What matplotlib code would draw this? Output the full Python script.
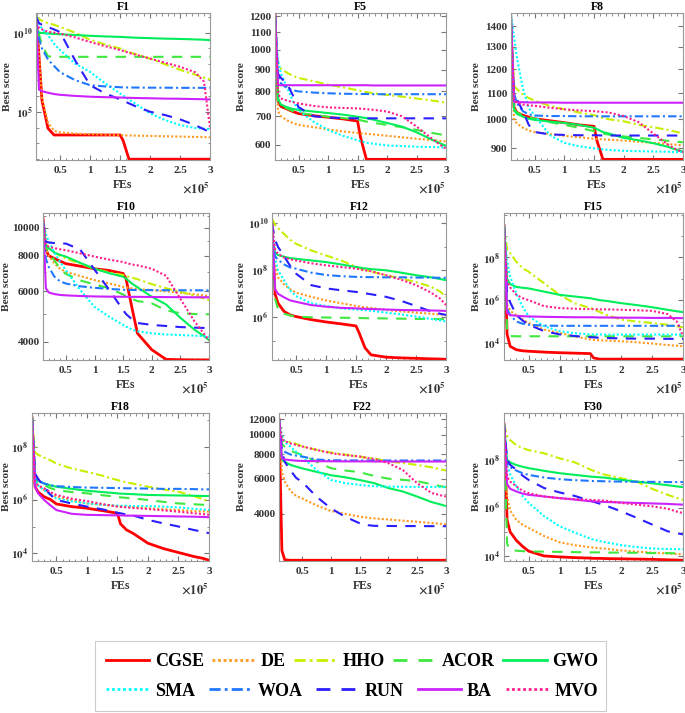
import matplotlib
matplotlib.use("Agg")
import matplotlib.pyplot as plt
from matplotlib.ticker import FixedLocator, FixedFormatter, NullFormatter, MultipleLocator
from matplotlib.patches import Rectangle
import numpy as np

plt.rcParams['font.family'] = ['Liberation Serif', 'DejaVu Serif']
plt.rcParams['font.weight'] = 'bold'
plt.rcParams['mathtext.fontset'] = 'stix'

# ---------------- data ----------------
algorithms = ["CGSE", "DE", "HHO", "ACOR", "GWO", "SMA", "WOA", "RUN", "BA", "MVO"]
# FEs (x 1e5) at which curves were sampled
FEs = [0.1, 0.15, 0.2, 0.3, 0.4, 0.5, 0.75, 1.0, 1.25, 1.5, 1.55, 1.65, 1.75, 2.0, 2.25, 2.5, 2.75, 2.9, 3.0]

# F1: log10(best score)
F1 = {
 "CGSE": [11.2, 8.5, 5.7, 3.95, 3.53, 3.53, 3.53, 3.53, 3.53, 3.53, 3.2, 2.0, 2.0, 2.0, 2.0, 2.0, 2.0, 2.0, 2.0],
 "DE":   [11.2, 8.6, 5.9, 4.3, 3.8, 3.7, 3.62, 3.58, 3.55, 3.52, 3.51, 3.5, 3.49, 3.47, 3.45, 3.43, 3.41, 3.4, 3.38],
 "HHO":  [11.0, 10.85, 10.75, 10.6, 10.5, 10.36, 10.0, 9.55, 9.25, 9.0, 8.9, 8.75, 8.65, 8.36, 8.0, 7.65, 7.35, 7.15, 7.05],
 "ACOR": [11.2, 9.9, 9.2, 8.5, 8.47, 8.47, 8.47, 8.47, 8.47, 8.47, 8.47, 8.47, 8.47, 8.47, 8.47, 8.47, 8.47, 8.47, 8.47],
 "GWO":  [10.3, 10.0, 9.98, 9.95, 9.92, 9.9, 9.85, 9.8, 9.76, 9.73, 9.72, 9.7, 9.68, 9.65, 9.62, 9.6, 9.57, 9.55, 9.52],
 "SMA":  [11.1, 10.57, 10.25, 9.83, 9.3, 8.9, 8.05, 7.52, 6.8, 6.16, 6.03, 5.78, 5.53, 4.9, 4.47, 4.16, 3.97, 3.93, 3.9],
 "WOA":  [10.8, 9.6, 9.0, 8.3, 7.9, 7.5, 7.0, 6.68, 6.6, 6.55, 6.54, 6.53, 6.53, 6.52, 6.52, 6.51, 6.51, 6.51, 6.51],
 "RUN":  [11.0, 10.6, 10.5, 10.35, 10.2, 10.04, 8.26, 6.68, 6.16, 5.78, 5.7, 5.53, 5.36, 5.0, 4.79, 4.52, 4.16, 3.89, 3.7],
 "BA":   [11.2, 6.4, 6.3, 6.2, 6.12, 6.07, 6.0, 5.95, 5.92, 5.9, 5.89, 5.88, 5.87, 5.85, 5.83, 5.82, 5.8, 5.79, 5.78],
 "MVO":  [10.6, 10.3, 10.2, 10.05, 10.0, 9.94, 9.7, 9.41, 9.15, 8.9, 8.85, 8.72, 8.62, 8.36, 8.1, 7.84, 7.5, 6.9, 4.0],
}
# F5: best score
F5 = {
 "CGSE": [1215, 760, 738, 728, 718, 710, 702, 696, 690, 682, 625, 555, 555, 555, 555, 555, 555, 555, 555],
 "DE":   [1200, 720, 700, 685, 675, 668, 660, 652, 645, 640, 639, 637, 635, 630, 625, 620, 616, 613, 611],
 "HHO":  [1150, 920, 905, 885, 870, 860, 845, 830, 818, 805, 802, 797, 793, 785, 778, 770, 762, 757, 752],
 "ACOR": [1200, 760, 745, 730, 720, 713, 705, 698, 693, 688, 685, 680, 676, 668, 660, 650, 640, 635, 630],
 "GWO":  [1200, 770, 745, 735, 728, 724, 718, 712, 706, 698, 696, 693, 688, 675, 662, 642, 618, 605, 597],
 "SMA":  [1200, 950, 880, 820, 760, 722, 680, 650, 630, 615, 612, 607, 604, 598, 596, 594, 593, 592, 592],
 "WOA":  [1200, 870, 835, 815, 805, 800, 795, 792, 790, 789, 789, 789, 788, 788, 788, 788, 788, 788, 788],
 "RUN":  [1200, 880, 860, 835, 785, 735, 700, 695, 693, 692, 692, 692, 692, 692, 692, 692, 692, 692, 692],
 "BA":   [1215, 828, 827, 827, 827, 827, 827, 827, 827, 827, 827, 827, 826, 826, 826, 826, 826, 826, 826],
 "MVO":  [1200, 790, 770, 762, 755, 750, 740, 734, 732, 730, 729, 727, 725, 718, 700, 662, 622, 600, 588],
}
# F8: best score
F8 = {
 "CGSE": [1400, 1045, 1025, 1015, 1008, 1002, 995, 988, 980, 975, 925, 865, 865, 865, 865, 865, 865, 865, 865],
 "DE":   [1400, 1000, 985, 970, 960, 955, 948, 942, 937, 932, 931, 930, 929, 926, 922, 918, 914, 912, 910],
 "HHO":  [1440, 1130, 1115, 1095, 1080, 1070, 1050, 1037, 1025, 1015, 1012, 1005, 1000, 993, 980, 972, 962, 955, 950],
 "ACOR": [1460, 1040, 1025, 1015, 1008, 1002, 990, 980, 970, 958, 955, 950, 946, 940, 935, 930, 925, 922, 920],
 "GWO":  [1460, 1035, 1020, 1010, 1002, 998, 992, 987, 980, 970, 965, 955, 950, 935, 927, 917, 905, 895, 890],
 "SMA":  [1460, 1350, 1250, 1120, 1040, 1015, 945, 918, 907, 900, 899, 897, 895, 892, 891, 890, 889, 888, 888],
 "WOA":  [1400, 1100, 1060, 1030, 1018, 1014, 1012, 1012, 1011, 1011, 1011, 1011, 1011, 1011, 1011, 1011, 1011, 1011, 1011],
 "RUN":  [1400, 1090, 1075, 1030, 980, 955, 947, 945, 944, 944, 944, 943, 943, 943, 943, 943, 943, 943, 943],
 "BA":   [1460, 1065, 1064, 1064, 1063, 1063, 1063, 1062, 1062, 1062, 1062, 1062, 1062, 1062, 1062, 1062, 1062, 1062, 1062],
 "MVO":  [1400, 1075, 1062, 1055, 1052, 1050, 1043, 1037, 1033, 1030, 1029, 1027, 1025, 1012, 990, 950, 912, 895, 888],
}
# F10: best score
F10 = {
 "CGSE": [10800, 8400, 8000, 7820, 7650, 7500, 7350, 7200, 7100, 6930, 6650, 5300, 4280, 3750, 3470, 3460, 3455, 3455, 3455],
 "DE":   [10500, 8500, 8000, 7500, 7200, 7020, 6790, 6570, 6400, 6225, 6200, 6150, 6110, 6060, 6000, 5930, 5860, 5810, 5775],
 "HHO":  [10500, 8800, 8500, 8200, 8000, 7820, 7500, 7200, 7000, 6840, 6800, 6700, 6620, 6360, 6150, 5980, 5800, 5680, 5595],
 "ACOR": [10500, 8600, 8200, 7700, 7200, 6900, 6550, 6350, 6150, 5850, 5780, 5650, 5550, 5450, 5150, 5030, 5000, 4990, 4990],
 "GWO":  [10500, 8700, 8500, 8200, 8050, 7940, 7550, 7200, 6950, 6750, 6650, 6400, 6200, 5747, 5400, 4850, 4400, 4200, 4050],
 "SMA":  [10500, 9500, 9000, 8200, 7600, 7110, 6060, 5300, 4900, 4580, 4520, 4420, 4350, 4280, 4240, 4220, 4200, 4180, 4170],
 "WOA":  [10500, 7800, 7300, 6750, 6500, 6390, 6250, 6175, 6120, 6080, 6075, 6070, 6065, 6060, 6055, 6052, 6050, 6050, 6050],
 "RUN":  [10500, 8950, 8900, 8850, 8820, 8820, 8400, 7150, 6100, 5160, 5000, 4800, 4650, 4580, 4540, 4500, 4480, 4470, 4460],
 "BA":   [10800, 6150, 5950, 5870, 5830, 5810, 5780, 5760, 5750, 5745, 5745, 5740, 5740, 5735, 5730, 5725, 5720, 5720, 5720],
 "MVO":  [10500, 8700, 8600, 8500, 8420, 8360, 8150, 7940, 7750, 7600, 7550, 7450, 7400, 7200, 6800, 5650, 4700, 4300, 4050],
}
# F12: log10(best score)
F12 = {
 "CGSE": [10.0, 7.0, 6.6, 6.25, 6.1, 6.03, 5.9, 5.8, 5.72, 5.63, 5.35, 4.7, 4.4, 4.3, 4.27, 4.25, 4.23, 4.22, 4.21],
 "DE":   [10.0, 8.2, 7.7, 7.4, 7.2, 7.05, 6.87, 6.72, 6.6, 6.48, 6.46, 6.42, 6.4, 6.31, 6.25, 6.2, 6.15, 6.12, 6.1],
 "HHO":  [10.2, 9.95, 9.8, 9.55, 9.3, 9.13, 8.85, 8.63, 8.42, 8.15, 8.1, 8.0, 7.95, 7.79, 7.65, 7.5, 7.3, 7.1, 6.87],
 "ACOR": [10.0, 6.8, 6.35, 6.15, 6.08, 6.03, 6.0, 5.99, 5.98, 5.97, 5.97, 5.96, 5.96, 5.95, 5.94, 5.93, 5.93, 5.92, 5.92],
 "GWO":  [9.5, 8.75, 8.65, 8.58, 8.52, 8.49, 8.42, 8.35, 8.25, 8.14, 8.12, 8.08, 8.05, 8.0, 7.9, 7.79, 7.7, 7.63, 7.58],
 "SMA":  [10.0, 8.5, 8.0, 7.58, 7.15, 6.9, 6.6, 6.48, 6.38, 6.33, 6.32, 6.3, 6.28, 6.2, 6.12, 6.03, 5.93, 5.87, 5.82],
 "WOA":  [9.5, 8.6, 8.45, 8.25, 8.12, 8.07, 7.9, 7.8, 7.75, 7.72, 7.72, 7.71, 7.71, 7.7, 7.7, 7.69, 7.69, 7.68, 7.68],
 "RUN":  [10.0, 9.3, 9.0, 8.6, 8.2, 7.86, 7.37, 7.23, 7.15, 7.08, 7.06, 7.02, 6.98, 6.87, 6.7, 6.48, 6.25, 6.15, 6.1],
 "BA":   [10.0, 7.2, 7.0, 6.85, 6.72, 6.66, 6.52, 6.45, 6.4, 6.38, 6.37, 6.36, 6.35, 6.33, 6.31, 6.3, 6.29, 6.28, 6.27],
 "MVO":  [10.0, 8.9, 8.7, 8.55, 8.47, 8.42, 8.3, 8.21, 8.14, 8.07, 8.05, 8.0, 7.96, 7.79, 7.6, 7.37, 7.05, 6.8, 6.52],
}
# F15: log10(best score)
F15 = {
 "CGSE": [9.5, 4.4, 3.84, 3.68, 3.63, 3.61, 3.57, 3.54, 3.52, 3.5, 3.3, 3.24, 3.24, 3.24, 3.24, 3.24, 3.24, 3.24, 3.24],
 "DE":   [9.5, 5.8, 5.5, 5.3, 5.1, 4.93, 4.62, 4.47, 4.3, 4.16, 4.14, 4.12, 4.11, 4.08, 4.03, 3.97, 3.9, 3.87, 3.84],
 "HHO":  [9.5, 8.4, 8.2, 7.8, 7.5, 7.33, 6.79, 6.25, 5.85, 5.63, 5.58, 5.45, 5.32, 5.09, 5.0, 4.93, 4.85, 4.78, 4.73],
 "ACOR": [9.5, 4.5, 4.32, 4.31, 4.31, 4.31, 4.31, 4.31, 4.31, 4.31, 4.31, 4.31, 4.31, 4.31, 4.31, 4.31, 4.31, 4.31, 4.31],
 "GWO":  [9.5, 7.0, 6.75, 6.62, 6.58, 6.55, 6.4, 6.25, 6.17, 6.09, 6.06, 6.0, 5.97, 5.86, 5.77, 5.67, 5.55, 5.48, 5.44],
 "SMA":  [9.5, 7.8, 7.1, 6.3, 5.7, 5.24, 4.78, 4.55, 4.45, 4.4, 4.4, 4.39, 4.39, 4.39, 4.39, 4.39, 4.39, 4.39, 4.39],
 "WOA":  [9.5, 5.6, 5.3, 5.0, 4.9, 4.85, 4.81, 4.8, 4.8, 4.8, 4.8, 4.8, 4.8, 4.8, 4.8, 4.8, 4.8, 4.8, 4.8],
 "RUN":  [9.5, 6.3, 5.9, 5.3, 5.05, 4.85, 4.55, 4.4, 4.32, 4.27, 4.26, 4.24, 4.23, 4.21, 4.2, 4.2, 4.19, 4.19, 4.19],
 "BA":   [9.5, 5.4, 5.3, 5.27, 5.25, 5.24, 5.22, 5.21, 5.2, 5.2, 5.2, 5.19, 5.19, 5.18, 5.18, 5.17, 5.17, 5.16, 5.16],
 "MVO":  [9.5, 6.9, 6.6, 6.25, 6.1, 6.0, 5.72, 5.63, 5.6, 5.58, 5.58, 5.57, 5.57, 5.55, 5.53, 5.5, 5.35, 5.0, 4.31],
}
# F18: log10(best score)
F18 = {
 "CGSE": [9.1, 6.5, 6.3, 6.12, 6.02, 5.85, 5.75, 5.69, 5.6, 5.5, 5.1, 4.87, 4.75, 4.37, 4.17, 4.02, 3.87, 3.8, 3.73],
 "DE":   [9.1, 6.75, 6.55, 6.37, 6.25, 6.12, 6.0, 5.87, 5.82, 5.77, 5.76, 5.74, 5.73, 5.69, 5.65, 5.62, 5.58, 5.57, 5.56],
 "HHO":  [9.1, 7.8, 7.7, 7.6, 7.5, 7.37, 7.19, 7.06, 6.92, 6.75, 6.72, 6.66, 6.62, 6.5, 6.4, 6.31, 6.15, 6.03, 5.94],
 "ACOR": [9.1, 6.7, 6.62, 6.56, 6.45, 6.37, 6.3, 6.25, 6.18, 6.12, 6.1, 6.08, 6.06, 6.0, 5.93, 5.87, 5.84, 5.82, 5.81],
 "GWO":  [9.1, 6.85, 6.72, 6.62, 6.55, 6.5, 6.42, 6.35, 6.3, 6.25, 6.24, 6.23, 6.22, 6.19, 6.18, 6.17, 6.16, 6.15, 6.15],
 "SMA":  [9.2, 6.75, 6.55, 6.37, 6.2, 6.06, 5.95, 5.87, 5.82, 5.79, 5.78, 5.78, 5.77, 5.77, 5.75, 5.72, 5.67, 5.64, 5.62],
 "WOA":  [9.1, 6.9, 6.72, 6.62, 6.56, 6.52, 6.49, 6.47, 6.46, 6.45, 6.45, 6.44, 6.44, 6.43, 6.42, 6.42, 6.41, 6.4, 6.4],
 "RUN":  [9.1, 7.0, 6.8, 6.5, 6.2, 6.0, 5.87, 5.75, 5.65, 5.52, 5.5, 5.45, 5.42, 5.25, 5.12, 5.0, 4.87, 4.8, 4.75],
 "BA":   [9.1, 6.5, 6.25, 6.0, 5.8, 5.62, 5.48, 5.44, 5.43, 5.42, 5.42, 5.41, 5.41, 5.4, 5.39, 5.38, 5.37, 5.36, 5.35],
 "MVO":  [9.1, 6.7, 6.55, 6.44, 6.3, 6.19, 6.05, 5.96, 5.85, 5.75, 5.74, 5.72, 5.7, 5.66, 5.61, 5.56, 5.5, 5.47, 5.44],
}
# F22: best score
F22 = {
 "CGSE": [12000, 2600, 2330, 2320, 2320, 2320, 2320, 2320, 2320, 2320, 2320, 2320, 2320, 2320, 2320, 2320, 2320, 2320, 2320],
 "DE":   [12000, 6500, 5800, 5200, 4900, 4770, 4400, 4120, 3980, 3860, 3840, 3800, 3780, 3730, 3680, 3630, 3580, 3550, 3520],
 "HHO":  [12000, 9400, 9300, 9200, 9000, 8740, 8400, 8140, 7950, 7760, 7730, 7650, 7600, 7330, 7200, 7040, 6850, 6700, 6600],
 "ACOR": [12000, 9000, 8700, 8300, 8100, 7920, 7330, 6780, 6600, 6480, 6420, 6300, 6200, 6000, 5920, 5830, 5620, 5500, 5440],
 "GWO":  [12000, 7500, 7300, 7050, 6900, 6770, 6500, 6250, 6100, 5910, 5870, 5780, 5700, 5380, 5170, 4870, 4570, 4450, 4360],
 "SMA":  [12000, 10000, 9200, 8700, 8200, 7770, 6640, 5910, 5700, 5580, 5560, 5530, 5500, 5470, 5460, 5450, 5450, 5440, 5440],
 "WOA":  [12000, 8500, 8200, 7950, 7850, 7770, 7500, 7440, 7430, 7420, 7420, 7420, 7420, 7420, 7420, 7420, 7420, 7420, 7420],
 "RUN":  [12000, 8300, 7300, 6600, 6050, 5790, 4870, 4250, 3850, 3570, 3540, 3490, 3465, 3460, 3455, 3455, 3452, 3450, 3450],
 "BA":   [12000, 7600, 7500, 7450, 7400, 7380, 7360, 7350, 7340, 7340, 7340, 7340, 7330, 7330, 7330, 7330, 7330, 7330, 7330],
 "MVO":  [12000, 9500, 9300, 9050, 8900, 8740, 8400, 8080, 7900, 7770, 7720, 7620, 7550, 7190, 6640, 5690, 5080, 4950, 4870],
}
# F30: log10(best score)
F30 = {
 "CGSE": [9.5, 5.5, 5.0, 4.65, 4.4, 4.2, 4.0, 3.96, 3.93, 3.91, 3.9, 3.9, 3.89, 3.88, 3.87, 3.86, 3.84, 3.83, 3.82],
 "DE":   [9.5, 6.5, 5.9, 5.5, 5.3, 5.17, 4.83, 4.57, 4.45, 4.36, 4.35, 4.32, 4.3, 4.23, 4.18, 4.14, 4.1, 4.08, 4.07],
 "HHO":  [9.5, 9.0, 8.83, 8.62, 8.5, 8.41, 8.28, 8.07, 7.9, 7.6, 7.55, 7.45, 7.38, 7.24, 7.1, 6.8, 6.55, 6.42, 6.34],
 "ACOR": [9.5, 4.5, 4.25, 4.22, 4.2, 4.19, 4.18, 4.17, 4.16, 4.15, 4.15, 4.15, 4.14, 4.14, 4.13, 4.12, 4.12, 4.11, 4.11],
 "GWO":  [9.5, 8.0, 7.9, 7.79, 7.72, 7.66, 7.55, 7.45, 7.38, 7.31, 7.3, 7.28, 7.26, 7.17, 7.1, 7.03, 6.95, 6.9, 6.87],
 "SMA":  [9.5, 7.8, 7.4, 6.9, 6.5, 6.21, 5.66, 5.24, 4.97, 4.72, 4.68, 4.62, 4.57, 4.45, 4.37, 4.31, 4.29, 4.28, 4.28],
 "WOA":  [9.5, 7.85, 7.7, 7.56, 7.45, 7.38, 7.27, 7.2, 7.16, 7.13, 7.12, 7.12, 7.11, 7.1, 7.09, 7.09, 7.08, 7.08, 7.08],
 "RUN":  [9.5, 8.0, 7.8, 7.59, 7.35, 7.17, 6.83, 6.65, 6.5, 6.3, 6.26, 6.18, 6.1, 5.86, 5.59, 5.31, 5.03, 4.95, 4.9],
 "BA":   [9.5, 7.0, 6.8, 6.69, 6.6, 6.55, 6.48, 6.41, 6.35, 6.28, 6.27, 6.26, 6.25, 6.23, 6.21, 6.19, 6.17, 6.15, 6.14],
 "MVO":  [9.5, 7.3, 7.1, 6.9, 6.72, 6.62, 6.48, 6.41, 6.37, 6.34, 6.33, 6.32, 6.3, 6.21, 6.14, 6.07, 5.97, 5.85, 5.79],
}

x_ticks = [0.5, 1, 1.5, 2, 2.5, 3]
x_tick_labels = ["0.5", "1", "1.5", "2", "2.5", "3"]

# panel: (title, data, values_are_log10, ylim, major ticks, labels, minor ticks)
panels = [
 ("F1", F1, True, (10**1.95, 10**11.24), [1e5, 1e10], [r"$\mathbf{10^{5}}$", r"$\mathbf{10^{10}}$"], None),
 ("F5", F5, False, (553, 1220), [600, 700, 800, 900, 1000, 1100, 1200], None, []),
 ("F8", F8, False, (863, 1470), [900, 1000, 1100, 1200, 1300, 1400], None, []),
 ("F10", F10, False, (3452, 11280), [4000, 6000, 8000, 10000], None, [5000, 7000, 9000, 11000]),
 ("F12", F12, True, (10**4.18, 10**10.44), [1e6, 1e8, 1e10], [r"$\mathbf{10^{6}}$", r"$\mathbf{10^{8}}$", r"$\mathbf{10^{10}}$"], None),
 ("F15", F15, True, (10**3.2, 10**10.08), [1e4, 1e6, 1e8], [r"$\mathbf{10^{4}}$", r"$\mathbf{10^{6}}$", r"$\mathbf{10^{8}}$"], None),
 ("F18", F18, True, (10**3.7, 10**9.28), [1e4, 1e6, 1e8], [r"$\mathbf{10^{4}}$", r"$\mathbf{10^{6}}$", r"$\mathbf{10^{8}}$"], None),
 ("F22", F22, False, (2300, 12900), [4000, 6000, 8000, 10000, 12000], None, [3000, 5000, 7000, 9000, 11000]),
 ("F30", F30, True, (10**3.79, 10**9.96), [1e4, 1e6, 1e8], [r"$\mathbf{10^{4}}$", r"$\mathbf{10^{6}}$", r"$\mathbf{10^{8}}$"], None),
]

styles = {
 "CGSE": dict(color="#ff0000", ls="-", lw=2.0),
 "DE":   dict(color="#ff9a1f", ls=(0, (1, 1)), lw=1.5),
 "HHO":  dict(color="#c8ee00", ls=(0, (4, 1.5, 1, 1.5)), lw=1.5),
 "ACOR": dict(color="#3ee83e", ls=(0, (5, 4)), lw=1.5),
 "GWO":  dict(color="#00ee5a", ls="-", lw=1.5),
 "SMA":  dict(color="#00ffff", ls=(0, (1, 1)), lw=1.5),
 "WOA":  dict(color="#1f78ff", ls=(0, (4, 1.5, 1, 1.5)), lw=1.5),
 "RUN":  dict(color="#2a1fff", ls=(0, (5, 4)), lw=1.5),
 "BA":   dict(color="#cc22ff", ls="-", lw=1.5),
 "MVO":  dict(color="#ff1f8c", ls=(0, (1, 1)), lw=1.5),
}

W, H = 685, 713
fig = plt.figure(figsize=(W / 100, H / 100), dpi=100)

# axes pixel boxes (left, right) per row/column, (top, bottom) per row
col_lr = [[(36, 210), (275, 446), (511, 683)],
          [(43, 209), (272, 446), (504, 683)],
          [(32, 209), (279, 446), (504, 683)]]
row_tb = [(13, 160), (213, 360), (413, 561)]
# distance (px) from axes left edge to the right edge of the rotated y label
ylabel_off = [[24, 29, 30], [32, 26, 23], [21, 33, 23]]

tick_color = "#333333"
FS = 8
handles = {}
for i, (title, data, is_log, ylim, yt, ylab, ymin) in enumerate(panels):
    r, c = divmod(i, 3)
    l, rr = col_lr[r][c]
    t, b = row_tb[r]
    wpx, hpx = rr - l, b - t
    ax = fig.add_axes([l / W, 1 - b / H, wpx / W, hpx / H])
    for name in algorithms:
        vals = np.array(data[name], dtype=float)
        yv = 10 ** vals if is_log else vals
        ln, = ax.plot(FEs, yv, **styles[name])
        handles[name] = ln
    ax.set_yscale("log")
    ax.set_xlim(0.1, 3)
    ax.set_ylim(*ylim)
    ax.xaxis.set_major_locator(FixedLocator(x_ticks))
    ax.xaxis.set_minor_locator(MultipleLocator(0.1))
    ax.set_xticklabels(x_tick_labels)
    ax.yaxis.set_major_locator(FixedLocator(yt))
    if ylab is None:
        ax.yaxis.set_major_formatter(FixedFormatter([str(int(v)) for v in yt]))
        ax.yaxis.set_minor_locator(FixedLocator(ymin))
    else:
        ax.yaxis.set_major_formatter(FixedFormatter(ylab))
        lo = int(np.ceil(np.log10(ylim[0])))
        hi = int(np.floor(np.log10(ylim[1])))
        ax.yaxis.set_minor_locator(FixedLocator([10.0 ** k for k in range(lo, hi + 1)]))
    ax.yaxis.set_minor_formatter(NullFormatter())
    ax.tick_params(which="both", direction="in", top=True, right=True,
                   colors="#777777", labelcolor=tick_color, labelsize=FS)
    ax.tick_params(which="major", length=3.5)
    ax.tick_params(which="minor", length=1.8)
    ax.tick_params(axis="x", which="major", pad=4.5)
    ax.tick_params(axis="y", which="major", pad=2.5)
    for lab in ax.get_xticklabels() + ax.get_yticklabels():
        lab.set_fontweight("bold")
    for sp in ax.spines.values():
        sp.set_color("#999999")
        sp.set_linewidth(0.8)
    ax.set_title(title, fontsize=8.5, fontweight="bold", pad=2.5)
    ax.set_xlabel("FEs", fontsize=8.5, fontweight="bold", color=tick_color)
    ax.xaxis.set_label_coords(0.5, -19 / hpx)
    ax.set_ylabel("Best score", fontsize=8.2, fontweight="bold", color=tick_color)
    ax.yaxis.set_label_coords(-ylabel_off[r][c] / wpx, 0.5)
    ax.text(1.0, -28 / hpx, r"$\times10^{5}$", transform=ax.transAxes, ha="right",
            va="center", fontsize=9, color=tick_color)

# legend box
fig.patches.append(Rectangle((95 / W, 1 - 711 / H), (606 - 95) / W, 70 / H,
                             transform=fig.transFigure, fill=False,
                             edgecolor="#cccccc", linewidth=0.8))
rows = [["CGSE", "DE", "HHO", "ACOR", "GWO"], ["SMA", "WOA", "RUN", "BA", "MVO"]]
row_y = [662, 691]
for names, yc in zip(rows, row_y):
    leg = fig.legend([handles[n] for n in names], names, ncol=5,
                     loc="center", bbox_to_anchor=(106 / W, 1 - (yc + 12) / H, (598 - 106) / W, 24 / H),
                     mode="expand", frameon=False, handlelength=2.4,
                     columnspacing=0.6, handletextpad=0.3,
                     prop={"family": "Liberation Serif", "weight": "bold", "size": 13},
                     borderaxespad=0.0, borderpad=0.0)
    for lh in leg.get_lines():
        lh.set_linewidth(2.0)

fig.savefig("out.png", dpi=100)
